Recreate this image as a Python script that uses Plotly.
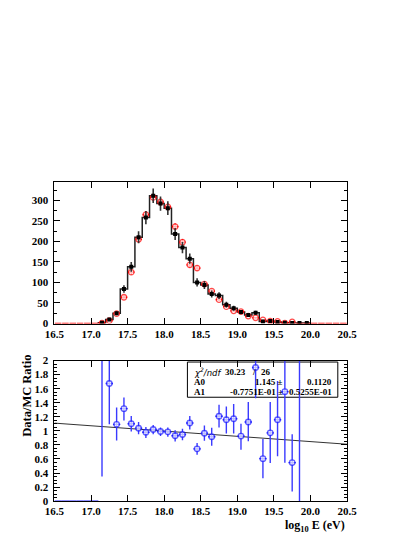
import plotly.graph_objects as go

# energy bins (log10 E), data counts and MC
data_x = [17.15, 17.25, 17.35, 17.45, 17.55, 17.65, 17.75, 17.85, 17.95, 18.05,
          18.15, 18.25, 18.35, 18.45, 18.55, 18.65, 18.75, 18.85, 18.95, 19.05,
          19.15, 19.25, 19.35, 19.45, 19.55, 19.65, 19.75, 19.85, 19.95]
data_n = [2, 10, 25, 84, 138, 210, 258, 311, 292, 281,
          218, 185, 158, 100, 94, 72, 68, 46, 37, 28,
          21, 26, 5, 6, 4, 2, 1, 1, 1]
data_err = [1.4, 3.2, 5, 9.2, 11.7, 14.5, 16, 17.6, 17.1, 16.8,
            14.8, 13.6, 12.6, 10, 9.7, 8.5, 8.2, 6.8, 6, 5.2,
            4.5, 5.1, 2, 2.4, 2, 1.4, 1, 1, 1]

mc_x = [16.55, 16.65, 16.75, 16.85, 16.95, 17.05, 17.15, 17.25, 17.35, 17.45,
        17.55, 17.65, 17.75, 17.85, 17.95, 18.05, 18.15, 18.25, 18.35, 18.45,
        18.55, 18.65, 18.75, 18.85, 18.95, 19.05, 19.15, 19.25, 19.35, 19.45,
        19.55, 19.65, 19.75, 19.85, 19.95, 20.05, 20.15, 20.25, 20.35, 20.45]
mc_n = [0, 0, 0, 0, 0, 0, 1, 7, 24, 64,
        125, 205, 265, 307, 296, 284, 236, 198, 143, 135,
        96, 79, 58, 41, 31, 29, 18, 14, 9, 6,
        5, 1, 4, 0, 0, 0, 0, 0, 0, 0]
mc_err = [0, 0, 0, 0, 0, 0, 0.5, 1.5, 3, 4.5,
          6, 8, 9, 9.5, 9.5, 9, 8, 7.5, 6.5, 6,
          5, 4.5, 4, 3.5, 3, 3, 2.3, 2, 1.6, 1.3,
          1.2, 0.6, 1, 0, 0, 0, 0, 0, 0, 0]

ratio_x = [16.55, 16.65, 16.75, 16.85, 16.95, 17.05, 17.15, 17.25, 17.35, 17.45,
           17.55, 17.65, 17.75, 17.85, 17.95, 18.05, 18.15, 18.25, 18.35, 18.45,
           18.55, 18.65, 18.75, 18.85, 18.95, 19.05, 19.15, 19.25, 19.35, 19.45,
           19.55, 19.65, 19.75, 19.85]
ratio_y = [0, 0, 0, 0, 0, 0, 2.3, 1.674, 1.093, 1.316,
           1.102, 1.037, 0.981, 1.019, 0.991, 0.986, 0.93, 0.949, 1.112, 0.744,
           0.967, 0.916, 1.209, 1.158, 1.172, 0.926, 1.126, 1.902, 0.605, 0.972,
           1.158, 1.558, 0.549, 2.5]
ratio_up = [0, 0, 0, 0, 0, 0, 1.0, 0.6, 0.24, 0.16,
            0.11, 0.09, 0.075, 0.065, 0.056, 0.061, 0.08, 0.08, 0.1, 0.084,
            0.11, 0.13, 0.163, 0.19, 0.21, 0.176, 0.283, 0.45, 0.28, 0.437,
            0.55, 0.9, 0.404, 2.0]
ratio_dn = [0, 0, 0, 0, 0, 0, 1.95, 0.58, 0.23, 0.17,
            0.11, 0.085, 0.083, 0.066, 0.065, 0.07, 0.08, 0.084, 0.093, 0.084,
            0.107, 0.126, 0.162, 0.195, 0.21, 0.196, 0.275, 0.437, 0.28, 0.428,
            0.52, 1.01, 0.41, 2.5]

fit_x = [16.5, 20.5]
fit_y = [1.11, 0.81]

fit_rows = [
    ("χ<sup>2</sup>/ndf", "30.23", "/", "26"),
    ("A0", "1.145", "±", "0.1120"),
    ("A1", "-0.7751E-01", "±", "0.5255E-01"),
]

W, H = 415, 537
SERIF = "Liberation Serif, Times New Roman, serif"


def px(x):
    return x / W


def py(y):
    return 1 - y / H


# histogram steps built from the bins
step_x = [x - 0.05 for x in data_x] + [data_x[-1] + 0.05]
step_y = data_n + [data_n[-1]]

fig = go.Figure()

fig.add_trace(go.Scatter(
    x=[step_x[0]] + step_x, y=[0] + step_y, mode="lines",
    line=dict(color="#222222", width=1.5, shape="hv"),
    xaxis="x", yaxis="y", hoverinfo="skip",
))
fig.add_trace(go.Scatter(
    x=mc_x, y=mc_n, mode="markers",
    marker=dict(symbol="circle", color="white", line=dict(width=1.3, color="red"),
                size=[5.5 if v > 0 else 0 for v in mc_n]),
    error_x=dict(type="constant", value=0.045, color="red", thickness=1.3, width=0),
    error_y=dict(type="data", array=mc_err, color="red", thickness=1.3, width=0),
    xaxis="x", yaxis="y",
))
fig.add_trace(go.Scatter(
    x=data_x, y=data_n, mode="markers",
    marker=dict(symbol="square", color="black", size=4),
    error_y=dict(type="data", array=data_err, color="#333333", thickness=1.6, width=0),
    xaxis="x", yaxis="y",
))

fig.add_trace(go.Scatter(
    x=fit_x, y=fit_y, mode="lines",
    line=dict(color="#333333", width=1),
    xaxis="x2", yaxis="y2",
))
fig.add_trace(go.Scatter(
    x=ratio_x, y=ratio_y, mode="markers",
    marker=dict(symbol="circle", color="white", line=dict(width=1.4, color="#2020ff"),
                size=[5.5 if v > 0 else 0 for v in ratio_y]),
    error_x=dict(type="constant", value=0.05, color="#2020ff", thickness=1.4, width=0),
    error_y=dict(type="data", symmetric=False, array=ratio_up, arrayminus=ratio_dn,
                 color="#3a3aff", thickness=1.4, width=0),
    xaxis="x2", yaxis="y2",
))

tickfont = dict(family=SERIF, size=11, color="black", weight="bold")
base = dict(showline=True, linecolor="black", linewidth=1, mirror="allticks",
            ticks="inside", ticklen=6, tickcolor="black", tickwidth=1,
            showgrid=False, zeroline=False, tickfont=tickfont)
xdom = [px(38.3), px(345.7)]

fig.update_layout(
    width=W, height=H,
    margin=dict(l=0, r=0, t=0, b=0),
    paper_bgcolor="white", plot_bgcolor="white",
    showlegend=False,
    xaxis=dict(base, domain=xdom, range=[16.5, 20.5], tick0=16.5, dtick=0.5,
               tickformat=".1f", anchor="y"),
    yaxis=dict(base, domain=[py(316.6), py(171.7)], range=[0, 345], dtick=50,
               minor=dict(dtick=25, ticklen=3, ticks="inside", tickcolor="black"),
               anchor="x", ticklabelstandoff=3),
    xaxis2=dict(base, domain=xdom, range=[16.5, 20.5], tick0=16.5, dtick=0.5,
                tickformat=".1f", anchor="y2"),
    yaxis2=dict(base, domain=[py(498.3), py(354.5)], range=[0, 2], dtick=0.2,
                minor=dict(dtick=0.05, ticklen=3, ticks="inside", tickcolor="black"),
                anchor="x2", ticklabelstandoff=3),
)

# fit statistics box
fig.add_shape(type="rect", xref="paper", yref="paper",
              x0=px(178), x1=px(336), y0=py(392), y1=py(356),
              line=dict(color="black", width=1), fillcolor="white", layer="below")

box_font = dict(family=SERIF, size=9, color="black", weight="bold")
row_y = [366, 376.5, 387]
for (name, val, sep, err), yy in zip(fit_rows, row_y):
    if name.startswith("χ"):
        fig.add_annotation(x=px(183), y=py(yy), xref="paper", yref="paper", text=name,
                           showarrow=False, xanchor="left", yanchor="middle",
                           font=dict(family="DejaVu Sans", size=8.5, color="black",
                                     style="italic"))
        fig.add_annotation(x=px(242), y=py(yy), xref="paper", yref="paper", text=val,
                           showarrow=False, xanchor="right", yanchor="middle", font=box_font)
        fig.add_annotation(x=px(248), y=py(yy), xref="paper", yref="paper", text=sep,
                           showarrow=False, xanchor="center", yanchor="middle", font=box_font)
        fig.add_annotation(x=px(253), y=py(yy), xref="paper", yref="paper", text=err,
                           showarrow=False, xanchor="left", yanchor="middle", font=box_font)
    else:
        fig.add_annotation(x=px(183), y=py(yy), xref="paper", yref="paper", text=name,
                           showarrow=False, xanchor="left", yanchor="middle", font=box_font)
        fig.add_annotation(x=px(280), y=py(yy), xref="paper", yref="paper",
                           text=val + " " + sep,
                           showarrow=False, xanchor="right", yanchor="middle", font=box_font)
        fig.add_annotation(x=px(332), y=py(yy), xref="paper", yref="paper", text=err,
                           showarrow=False, xanchor="right", yanchor="middle", font=box_font)

# axis titles
fig.add_annotation(x=px(10), y=py(391), xref="paper", yref="paper", text="Data/MC Ratio",
                   textangle=-90, showarrow=False, xanchor="center", yanchor="middle",
                   font=dict(family=SERIF, size=12.5, color="black", weight="bold"))
fig.add_annotation(x=px(346), y=py(524), xref="paper", yref="paper",
                   text="log<sub>10</sub> E (eV)", showarrow=False,
                   xanchor="right", yanchor="middle",
                   font=dict(family=SERIF, size=12, color="black", weight="bold"))

fig.write_html("out.html")
